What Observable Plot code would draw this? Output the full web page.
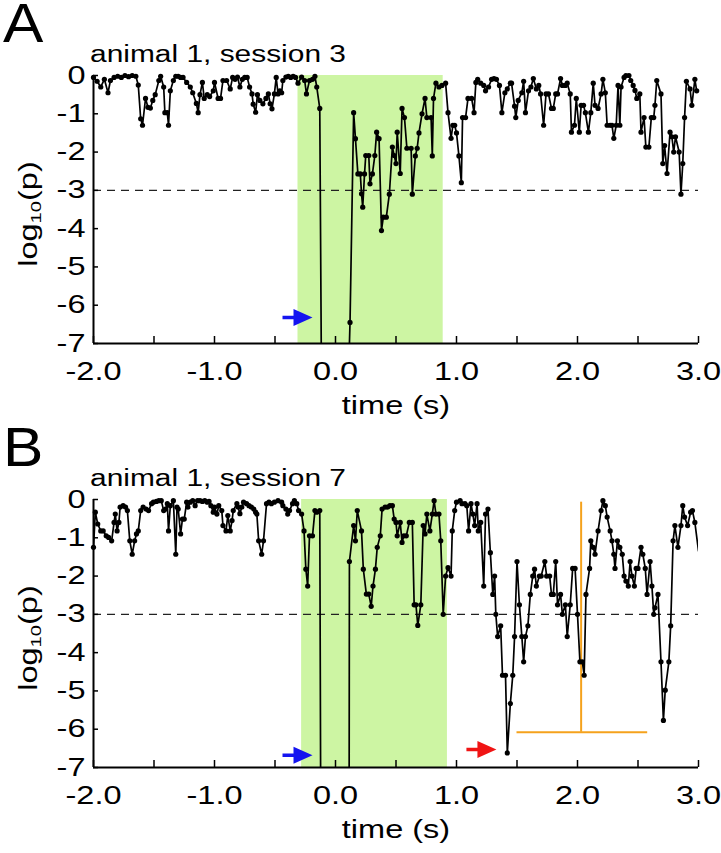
<!DOCTYPE html>
<html><head><meta charset="utf-8">
<script src="https://cdn.jsdelivr.net/npm/d3@7"></script>
<script src="https://cdn.jsdelivr.net/npm/@observablehq/plot@0.6"></script>
<style>
body{margin:0;background:#fff;font-family:"Liberation Sans",Arial,sans-serif;}
#wrap{position:relative;width:721px;height:853px;overflow:hidden;background:#fff;}
.lbl{position:absolute;white-space:nowrap;color:#000;line-height:1;transform-origin:0 0;}
.panel{position:absolute;left:0;}
</style></head><body><div id="wrap"></div>
<script>
// ---- data ----
const xDomain = [-2, 3];
const yDomain = [-7, 0];
const xTickValues = [-2, -1.5, -1, -0.5, 0, 0.5, 1, 1.5, 2, 2.5, 3];
const yTickValues = [0, -1, -2, -3, -4, -5, -6, -7];
const threshold = [-3];
const panelLetters = ["A", "B"];
const titles = ["animal 1, session 3", "animal 1, session 7"];
const xLabel = "time (s)";
const stimA = [{start: -0.31, end: 0.89}];
const stimB = [{start: -0.28, end: 0.925}];
// [time (s), log10(p)]; values below -7 are off the scale
const sessionA = [[-2.00,-0.05],[-1.97,-0.15],[-1.94,-0.30],[-1.91,-0.10],[-1.88,-0.45],[-1.86,-0.13],[-1.83,-0.05],[-1.80,-0.02],[-1.77,-0.05],[-1.74,0],[-1.71,-0.03],[-1.68,0],[-1.65,-0.02],[-1.63,-0.25],[-1.61,-1.13],[-1.595,-1.30],[-1.57,-0.60],[-1.55,-0.83],[-1.53,-0.85],[-1.51,-0.65],[-1.49,-0.50],[-1.46,-0.13],[-1.445,-0.02],[-1.42,-0.30],[-1.41,-0.97],[-1.39,-0.97],[-1.38,-1.30],[-1.365,-0.40],[-1.34,-0.13],[-1.32,-0.02],[-1.30,-0.02],[-1.28,-0.05],[-1.26,-0.05],[-1.23,-0.18],[-1.20,-0.30],[-1.18,-0.45],[-1.15,-0.73],[-1.135,-0.97],[-1.12,-0.50],[-1.10,-0.18],[-1.085,-0.60],[-1.06,-0.50],[-1.04,-0.55],[-1.01,-0.40],[-1.00,-0.18],[-0.97,-0.60],[-0.95,-0.60],[-0.93,-0.13],[-0.90,-0.13],[-0.87,-0.35],[-0.85,-0.05],[-0.83,-0.10],[-0.81,-0.04],[-0.79,-0.30],[-0.77,-0.10],[-0.75,-0.05],[-0.73,-0.05],[-0.71,-0.30],[-0.69,-0.48],[-0.68,-0.75],[-0.66,-0.96],[-0.645,-0.50],[-0.625,-0.65],[-0.60,-0.74],[-0.575,-0.60],[-0.555,-0.48],[-0.54,-0.74],[-0.525,-0.87],[-0.505,-0.48],[-0.49,-0.05],[-0.475,-0.48],[-0.46,-0.40],[-0.445,-0.45],[-0.435,-0.13],[-0.41,-0.04],[-0.39,-0.02],[-0.37,-0.05],[-0.35,-0.02],[-0.33,-0.05],[-0.31,-0.20],[-0.28,-0.04],[-0.255,-0.13],[-0.24,-0.48],[-0.215,-0.13],[-0.19,-0.10],[-0.17,-0.02],[-0.155,-0.30],[-0.13,-0.86],[-0.11,-11],[0.10,-8.7],[0.12,-6.45],[0.15,-0.97],[0.165,-1.65],[0.185,-2.57],[0.205,-2.57],[0.215,-3.09],[0.225,-3.44],[0.24,-2.57],[0.25,-2.09],[0.275,-2.09],[0.285,-2.83],[0.305,-2.57],[0.325,-2.09],[0.34,-1.48],[0.36,-1.65],[0.38,-4.05],[0.395,-3.70],[0.42,-3.70],[0.445,-3.10],[0.47,-1.87],[0.485,-2.09],[0.50,-2.30],[0.51,-1.48],[0.535,-2.56],[0.55,-0.86],[0.57,-1.10],[0.59,-1.90],[0.625,-1.90],[0.635,-3.10],[0.66,-2.10],[0.675,-1.90],[0.69,-1.50],[0.715,-1.00],[0.74,-0.60],[0.755,-1.10],[0.79,-1.10],[0.80,-2.10],[0.81,-0.60],[0.83,-0.20],[0.855,-0.30],[0.88,-0.26],[0.91,-0.20],[0.93,-0.97],[0.955,-1.64],[0.97,-1.30],[0.985,-1.30],[1.00,-1.50],[1.02,-2.10],[1.04,-2.80],[1.05,-1.10],[1.075,-1.10],[1.095,-0.60],[1.125,-0.60],[1.145,-0.97],[1.16,-0.18],[1.175,-0.10],[1.20,-0.20],[1.225,-0.26],[1.24,-0.40],[1.265,-0.30],[1.29,-0.10],[1.31,-0.08],[1.33,-0.10],[1.355,-0.26],[1.375,-0.97],[1.40,-0.45],[1.42,-0.35],[1.445,-0.20],[1.455,-0.20],[1.48,-0.80],[1.49,-1.10],[1.51,-0.65],[1.54,-0.45],[1.555,-0.15],[1.57,-0.97],[1.595,-0.40],[1.615,-0.30],[1.635,-0.08],[1.66,-0.35],[1.68,-0.26],[1.695,-0.48],[1.72,-1.30],[1.74,-0.48],[1.76,-0.48],[1.785,-0.86],[1.80,-0.86],[1.82,-0.48],[1.835,-0.48],[1.86,-0.08],[1.875,-0.26],[1.90,-0.26],[1.915,-0.20],[1.94,-0.48],[1.95,-1.48],[1.975,-1.30],[1.99,-0.60],[2.015,-1.48],[2.03,-0.78],[2.05,-0.78],[2.065,-0.97],[2.09,-1.48],[2.11,-0.97],[2.13,-0.20],[2.145,-0.78],[2.17,-0.86],[2.195,-0.48],[2.21,-0.10],[2.23,-0.45],[2.245,-1.30],[2.27,-1.30],[2.285,-1.30],[2.30,-1.64],[2.32,-1.30],[2.335,-0.26],[2.35,-1.30],[2.36,-0.30],[2.385,-0.05],[2.40,0],[2.425,0],[2.44,-0.13],[2.46,-0.26],[2.475,-0.39],[2.49,-0.60],[2.515,-0.48],[2.525,-1.48],[2.55,-1.10],[2.565,-1.87],[2.59,-1.87],[2.61,-1.10],[2.63,-1.10],[2.64,-0.78],[2.655,-0.13],[2.69,-0.48],[2.705,-2.30],[2.72,-1.83],[2.74,-2.56],[2.765,-1.48],[2.78,-1.60],[2.795,-2.00],[2.81,-1.60],[2.84,-2.00],[2.855,-3.10],[2.87,-2.30],[2.885,-1.10],[2.90,-0.15],[2.93,-0.35],[2.945,-0.78],[2.97,-0.10],[2.985,-0.40]];
const sessionB = [[-2.00,-1.25],[-1.985,-0.33],[-1.965,-0.64],[-1.94,-0.82],[-1.92,-0.82],[-1.895,-0.95],[-1.875,-0.99],[-1.85,-1.08],[-1.83,-0.60],[-1.82,-0.38],[-1.805,-0.82],[-1.79,-0.60],[-1.78,-0.20],[-1.755,-0.16],[-1.735,-0.20],[-1.72,-0.29],[-1.70,-1.08],[-1.68,-1.43],[-1.66,-1.08],[-1.645,-0.90],[-1.63,-0.82],[-1.61,-0.29],[-1.59,-0.20],[-1.565,-0.25],[-1.545,-0.29],[-1.52,-0.11],[-1.505,-0.07],[-1.48,-0.05],[-1.46,-0.03],[-1.44,-0.03],[-1.42,-0.29],[-1.405,-0.25],[-1.39,-0.11],[-1.38,-0.82],[-1.365,-0.16],[-1.34,-0.03],[-1.32,-1.43],[-1.31,-0.20],[-1.30,-0.25],[-1.28,-0.90],[-1.265,-0.51],[-1.25,-0.51],[-1.23,-0.07],[-1.22,-0.20],[-1.20,-0.07],[-1.18,-0.03],[-1.16,-0.16],[-1.14,-0.03],[-1.12,-0.03],[-1.10,-0.05],[-1.08,-0.03],[-1.06,-0.07],[-1.045,-0.05],[-1.03,-0.16],[-1.01,-0.33],[-1.00,-0.20],[-0.98,-0.38],[-0.965,-0.16],[-0.94,-0.29],[-0.93,-0.68],[-0.905,-0.82],[-0.89,-0.42],[-0.87,-0.82],[-0.855,-0.55],[-0.845,-0.29],[-0.815,-0.11],[-0.805,-0.20],[-0.79,-0.37],[-0.775,-0.20],[-0.76,-0.07],[-0.735,-0.11],[-0.715,-0.16],[-0.695,-0.20],[-0.675,-0.25],[-0.66,-0.33],[-0.65,-0.38],[-0.635,-1.08],[-0.61,-1.43],[-0.595,-1.08],[-0.57,-0.11],[-0.55,-0.07],[-0.53,-0.11],[-0.505,-0.07],[-0.475,-0.03],[-0.445,-0.07],[-0.435,-0.16],[-0.41,-0.25],[-0.395,-0.38],[-0.38,-0.29],[-0.355,-0.11],[-0.34,-0.03],[-0.32,-0.11],[-0.305,-0.29],[-0.28,-0.38],[-0.26,-0.82],[-0.245,-1.82],[-0.23,-2.26],[-0.215,-0.95],[-0.19,-0.95],[-0.17,-0.29],[-0.155,-0.33],[-0.13,-0.29],[-0.11,-20],[0.10,-40],[0.115,-1.62],[0.15,-0.68],[0.165,-1.08],[0.18,-0.29],[0.215,-0.82],[0.23,-1.82],[0.255,-2.47],[0.275,-2.47],[0.295,-2.79],[0.31,-2.26],[0.33,-1.82],[0.345,-1.25],[0.37,-0.95],[0.385,-0.25],[0.41,-0.20],[0.43,-0.20],[0.45,-0.16],[0.47,-0.16],[0.485,-0.51],[0.50,-0.60],[0.51,-0.95],[0.535,-0.60],[0.55,-1.12],[0.565,-0.95],[0.585,-0.95],[0.61,-0.60],[0.635,-0.60],[0.65,-2.75],[0.665,-2.75],[0.68,-3.29],[0.705,-2.75],[0.725,-0.68],[0.74,-0.90],[0.755,-0.38],[0.78,-0.82],[0.80,-0.38],[0.815,-0.03],[0.83,-0.38],[0.855,-0.38],[0.87,-1.08],[0.89,-3.00],[0.91,-2.00],[0.93,-1.78],[0.955,-2.00],[0.965,-0.82],[0.985,-0.29],[1.00,-0.07],[1.03,-0.03],[1.045,-0.11],[1.07,-0.11],[1.085,-0.16],[1.10,-0.82],[1.12,-0.11],[1.135,-0.38],[1.15,-0.68],[1.17,-0.11],[1.18,-0.82],[1.20,-0.60],[1.225,-2.26],[1.24,-0.38],[1.26,-0.25],[1.28,-1.39],[1.30,-2.48],[1.315,-2.00],[1.325,-3.00],[1.34,-3.58],[1.365,-3.30],[1.38,-4.59],[1.405,-4.59],[1.42,-6.62],[1.445,-5.33],[1.465,-4.59],[1.48,-3.58],[1.50,-1.62],[1.52,-2.75],[1.54,-3.58],[1.555,-4.24],[1.57,-3.58],[1.59,-3.30],[1.61,-2.48],[1.63,-2.00],[1.645,-1.82],[1.66,-2.26],[1.685,-2.00],[1.70,-2.00],[1.73,-1.62],[1.745,-2.00],[1.77,-2.00],[1.785,-2.48],[1.80,-2.48],[1.82,-1.62],[1.835,-2.75],[1.86,-2.48],[1.875,-3.00],[1.90,-2.75],[1.915,-3.58],[1.94,-2.75],[1.96,-1.80],[1.98,-1.80],[2.00,-3.00],[2.02,-4.24],[2.04,-4.24],[2.055,-4.59],[2.07,-2.48],[2.10,-1.80],[2.11,-1.08],[2.13,-1.25],[2.145,-1.43],[2.17,-0.82],[2.195,-0.29],[2.21,-0.03],[2.23,-0.16],[2.245,-0.46],[2.27,-0.82],[2.285,-1.08],[2.30,-1.43],[2.31,-1.80],[2.33,-1.08],[2.35,-1.25],[2.37,-1.43],[2.385,-2.00],[2.40,-2.13],[2.42,-2.26],[2.435,-1.62],[2.45,-2.00],[2.47,-2.26],[2.485,-1.80],[2.50,-1.80],[2.525,-1.25],[2.54,-1.43],[2.56,-1.80],[2.575,-2.48],[2.60,-1.62],[2.615,-2.26],[2.63,-3.00],[2.64,-2.83],[2.665,-2.48],[2.69,-4.24],[2.71,-5.77],[2.725,-4.98],[2.755,-4.24],[2.77,-3.30],[2.79,-1.08],[2.805,-0.68],[2.83,-1.25],[2.855,-0.68],[2.87,-0.16],[2.885,-0.46],[2.91,-0.68],[2.935,-0.33],[2.95,-0.29],[2.97,-0.60],[3.00,-1.34]];
const blueArrowA = [{t: -0.19, v: -6.32}];
const blueArrowB = [{t: -0.19, v: -6.68}];
const redArrowB = [{t: 1.33, v: -6.53}];
const orangeVertical = [{t: 2.03, top: -0.07, bottom: -6.08}];
const orangeHorizontal = [{v: -6.08, from: 1.50, to: 2.58}];

// ---- drawing ----
const wrap = document.getElementById("wrap");
const STRETCH = 1.3;
const FONT = "'Liberation Sans', Arial, Helvetica, sans-serif";

const arrowShape = {
  draw(ctx, l) {
    const hw = 8.5, hl = 19, sw = 1.8;
    ctx.moveTo(-sw, 0);
    ctx.lineTo(-sw, hl - l);
    ctx.lineTo(-hw, hl - l);
    ctx.lineTo(0, -l);
    ctx.lineTo(hw, hl - l);
    ctx.lineTo(sw, hl - l);
    ctx.lineTo(sw, 0);
    ctx.closePath();
  }
};

function addLabel(html, x, baseline, size, opts = {}) {
  const d = document.createElement("div");
  d.className = "lbl";
  d.innerHTML = html;
  d.style.fontSize = size + "px";
  d.style.fontFamily = FONT;
  const lh = opts.lh ?? 1;
  d.style.lineHeight = String(lh);
  const k = opts.k ?? STRETCH;
  const topFromBaseline = (0.905 - (1.117 - lh) / 2) * size;
  d.style.left = x + "px";
  if (opts.rotate) {
    d.style.top = baseline + "px";
    d.style.transform = `rotate(-90deg) scaleX(${k}) translate(-50%,-50%)`;
  } else if (opts.center) {
    d.style.top = (baseline - topFromBaseline) + "px";
    d.style.transform = `scaleX(${k}) translateX(-50%)`;
  } else {
    d.style.top = (baseline - topFromBaseline) + "px";
    d.style.transform = `scaleX(${k})`;
  }
  wrap.appendChild(d);
}

// widen SVG tick labels horizontally about their own anchor
function stretchText(svg, k) {
  svg.querySelectorAll("text").forEach(t => {
    const tr = t.getAttribute("transform") || "";
    let x = parseFloat(t.getAttribute("x"));
    if (!isFinite(x)) x = 0;
    t.setAttribute("transform", `${tr} translate(${x},0) scale(${k},1) translate(${-x},0)`.trim());
  });
}

function panel(series, stim, extras, top, idx) {
  const rows = series.map(([t, v]) => ({t, v}));
  const dots = rows.filter((d, i) => d.v >= yDomain[0] && !(idx === 1 && i === rows.length - 1));
  const svg = Plot.plot({
    width: 721, height: 400,
    marginTop: 75, marginBottom: 57, marginLeft: 93, marginRight: 23,
    x: {domain: xDomain},
    y: {domain: yDomain},
    style: {fontFamily: FONT, fontSize: "25px", color: "#000", background: "transparent", overflow: "visible"},
    marks: [
      Plot.rect(stim, {x1: "start", x2: "end", y1: yDomain[0], y2: yDomain[1], fill: "#cdf5a3"}),
      Plot.ruleY(threshold, {stroke: "#222", strokeWidth: 1.4, strokeDasharray: "8,6"}),
      ...extras,
      Plot.line(rows, {x: "t", y: "v", stroke: "#000", strokeWidth: 1.7, clip: true}),
      Plot.dot(dots, {x: "t", y: "v", r: 2.6, fill: "#000", stroke: "none"}),
      Plot.ruleX([xDomain[0]], {stroke: "#000", strokeWidth: 2}),
      Plot.ruleY([yDomain[0]], {stroke: "#000", strokeWidth: 2}),
      Plot.axisX({ticks: xTickValues, tickSize: 7, dy: -7, tickPadding: 19, strokeWidth: 1.5,
        tickFormat: d => Math.abs(d % 1) < 1e-9 ? d.toFixed(1) : "", label: null}),
      Plot.axisY({ticks: yTickValues, tickSize: 5, dx: 5, tickPadding: 8, strokeWidth: 1.5,
        tickFormat: d => String(d), label: null})
    ]
  });
  stretchText(svg, STRETCH);
  const holder = document.createElement("div");
  holder.className = "panel";
  holder.style.top = top + "px";
  holder.appendChild(svg);
  wrap.appendChild(holder);

  addLabel(panelLetters[idx], 3, top + 43, 55, {k: 1.1, lh: 0.75});
  addLabel(titles[idx], 90, top + 62, 23);
  addLabel(xLabel, 396, top + 414, 25, {center: true});
  addLabel('log<span style="font-size:0.62em;vertical-align:-0.28em">10</span>(p)', 30, top + 214, 25, {rotate: true});
}

const vec = (data, color) => Plot.vector(data, {x: "t", y: "v", length: 30, rotate: 90, anchor: "end",
  shape: arrowShape, fill: color, stroke: "none"});

panel(sessionA, stimA, [vec(blueArrowA, "#1414f0")], 0, 0);
panel(sessionB, stimB, [
  Plot.ruleX(orangeVertical, {x: "t", y1: "top", y2: "bottom", stroke: "#f5a21c", strokeWidth: 2}),
  Plot.ruleY(orangeHorizontal, {y: "v", x1: "from", x2: "to", stroke: "#f5a21c", strokeWidth: 2}),
  vec(blueArrowB, "#1414f0"),
  vec(redArrowB, "#f01414")
], 424, 1);
</script></body></html>
